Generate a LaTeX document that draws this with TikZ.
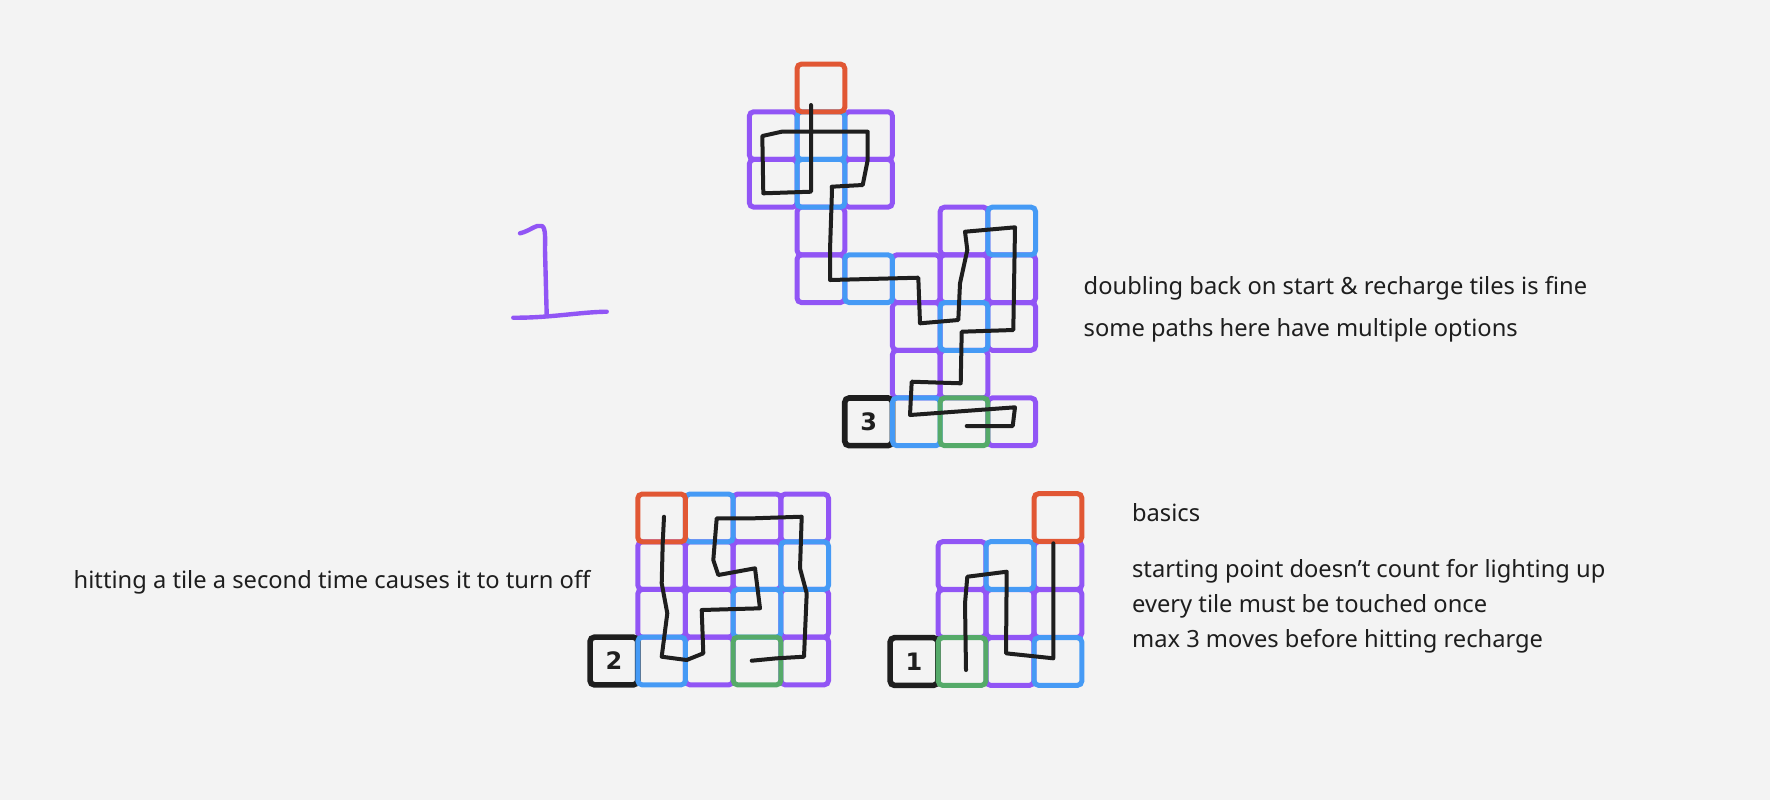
\documentclass[tikz,border=0pt]{standalone}
\usepackage{fontspec}
\setmainfont{Noto Sans}
\newfontfamily\digitfont{DejaVu Sans}
\definecolor{bgc}{RGB}{243,243,243}
\definecolor{tpurple}{RGB}{145,85,245}
\definecolor{tblue}{RGB}{69,154,245}
\definecolor{tred}{RGB}{225,87,52}
\definecolor{tgreen}{RGB}{85,170,105}
\definecolor{tblack}{RGB}{30,30,30}
\tikzset{
  tile/.style={draw, rounded corners=2.2pt, line width=2.5pt, minimum size=23.85pt, inner sep=0pt, outer sep=0pt},
  pt/.style={tile, draw=tpurple},
  bt/.style={tile, draw=tblue},
  rt/.style={tile, draw=tred},
  gt/.style={tile, draw=tgreen},
  kt/.style={tile, draw=tblack, line width=2.8pt, font=\digitfont\fontsize{12pt}{12pt}\selectfont\bfseries, text=tblack},
  scribble/.style={draw=tblack, line width=2pt, line cap=round, line join=round},
  lbl/.style={anchor=base west, inner sep=0pt, text=tblack, font=\fontsize{11.85pt}{13pt}\selectfont},
}
\begin{document}
\begin{tikzpicture}[x=0.5pt,y=-0.5pt]
\fill[bgc] (0,0) rectangle (1770,800);
\useasboundingbox (0,0) rectangle (1770,800);

% ---------- grid 3 (top) ----------
\node[pt] (a01) at (773.2,135.6) {};
\node[pt] (a21) at (868.6,135.6) {};
\node[pt] (a02) at (773.2,183.3) {};
\node[pt] (a22) at (868.6,183.3) {};
\node[pt] (a13) at (820.9,231.0) {};
\node[pt] (a43) at (964.0,231.0) {};
\node[pt] (a14) at (820.9,278.7) {};
\node[pt] (a34) at (916.3,278.7) {};
\node[pt] (a44) at (964.0,278.7) {};
\node[pt] (a54) at (1011.7,278.7) {};
\node[pt] (a35) at (916.3,326.4) {};
\node[pt] (a55) at (1011.7,326.4) {};
\node[pt] (a36) at (916.3,374.1) {};
\node[pt] (a46) at (964.0,374.1) {};
\node[pt] (a57) at (1011.7,421.8) {};
\node[kt] (a27) at (868.6,421.8) {3};
\node[bt] (a11) at (820.9,135.6) {};
\node[bt] (a12) at (820.9,183.3) {};
\node[bt] (a53) at (1011.7,231.0) {};
\node[bt] (a24) at (868.6,278.7) {};
\node[bt] (a45) at (964.0,326.4) {};
\node[bt] (a37) at (916.3,421.8) {};
\node[rt] (a10) at (820.9,87.9) {};
\node[gt] (a47) at (964.0,421.8) {};

\draw[scribble] (811,105) -- (811,191.7) -- (763.3,193.3) -- (762.3,136) -- (781.7,131.7)
  -- (867.7,131.7) -- (867.7,160) -- (862.7,185) -- (831.7,186.7) -- (832,190) -- (830,250)
  -- (830,280) -- (918.3,277.7) -- (920,323.3) -- (958.3,320) -- (960,283.3) -- (967.3,250)
  -- (965,231.7) -- (1015,227.3) -- (1013.3,330) -- (961.7,331.7) -- (960.7,383.3)
  -- (911.7,381.7) -- (910,415) -- (1015,407.3) -- (1012.7,426) -- (966.7,426);

% ---------- grid 2 (bottom left) ----------
\node[pt] (b30) at (757.0,517.9) {};
\node[pt] (b40) at (804.7,517.9) {};
\node[pt] (b11) at (661.6,565.6) {};
\node[pt] (b21) at (709.3,565.6) {};
\node[pt] (b31) at (757.0,565.6) {};
\node[pt] (b12) at (661.6,613.3) {};
\node[pt] (b22) at (709.3,613.3) {};
\node[pt] (b42) at (804.7,613.3) {};
\node[pt] (b23) at (709.3,661.0) {};
\node[pt] (b43) at (804.7,661.0) {};
\node[kt] (b03) at (613.9,661.0) {2};
\node[bt] (b20) at (709.3,517.9) {};
\node[bt] (b41) at (804.7,565.6) {};
\node[bt] (b32) at (757.0,613.3) {};
\node[bt] (b13) at (661.6,661.0) {};
\node[rt] (b10) at (661.6,517.9) {};
\node[gt] (b33) at (757.0,661.0) {};

\draw[scribble] (664,516.7) -- (662.7,543.3) -- (661.7,583.3) -- (667.3,613.3) -- (661.7,656.7)
  -- (686.7,660) -- (703.3,653.3) -- (701.7,610) -- (760,608.3) -- (755,568.3) -- (718.3,575)
  -- (713.3,560) -- (716.7,518.3) -- (753.3,518.3) -- (801.7,516.7) -- (800,568.3)
  -- (806.7,593.3) -- (804,656.7) -- (776.7,658.3) -- (751.7,660.7);

% ---------- grid 1 (bottom right) ----------
\node[pt] (c11) at (962,565.5) {};
\node[pt] (c31) at (1058,565.5) {};
\node[pt] (c12) at (962,613.5) {};
\node[pt] (c22) at (1010,613.5) {};
\node[pt] (c32) at (1058,613.5) {};
\node[pt] (c23) at (1010,661.5) {};
\node[kt] (c03) at (914,661.5) {1};
\node[bt] (c21) at (1010,565.5) {};
\node[bt] (c33) at (1058,661.5) {};
\node[rt] (c30) at (1058,517.5) {};
\node[gt] (c13) at (962,661.5) {};

\draw[scribble] (966,670) -- (965,603.3) -- (967.3,576.7) -- (1006.7,571.7) -- (1006,653.3)
  -- (1053.3,658.3) -- (1053.3,543.3);

% ---------- handwritten 1 ----------
\draw[tpurple, line width=2.2pt, line cap=round, line join=round]
  (520,233.3) .. controls (530,231) and (536,224) .. (542,226) .. controls (546,228) and (545,240) .. (545,250)
  -- (546.7,315);
\draw[tpurple, line width=2.2pt, line cap=round] (513.3,317.7) .. controls (550,318) and (580,312) .. (606.7,311.7);

% ---------- texts ----------
\node[lbl] (t1) at (1083.3,294.3) {doubling back on start \& recharge tiles is fine};
\node[lbl] (t2) at (1083.3,336) {some paths here have multiple options};
\node[lbl] (t3) at (1131.7,521) {basics};
\node[lbl] (t4) at (1131.7,577.3) {starting point doesn’t count for lighting up};
\node[lbl] (t5) at (1131.7,612.7) {every tile must be touched once};
\node[lbl] (t6) at (1131.7,647.7) {max 3 moves before hitting recharge};
\node[lbl] (t7) at (73.3,588.3) {hitting a tile a second time causes it to turn off};
\end{tikzpicture}
\end{document}
